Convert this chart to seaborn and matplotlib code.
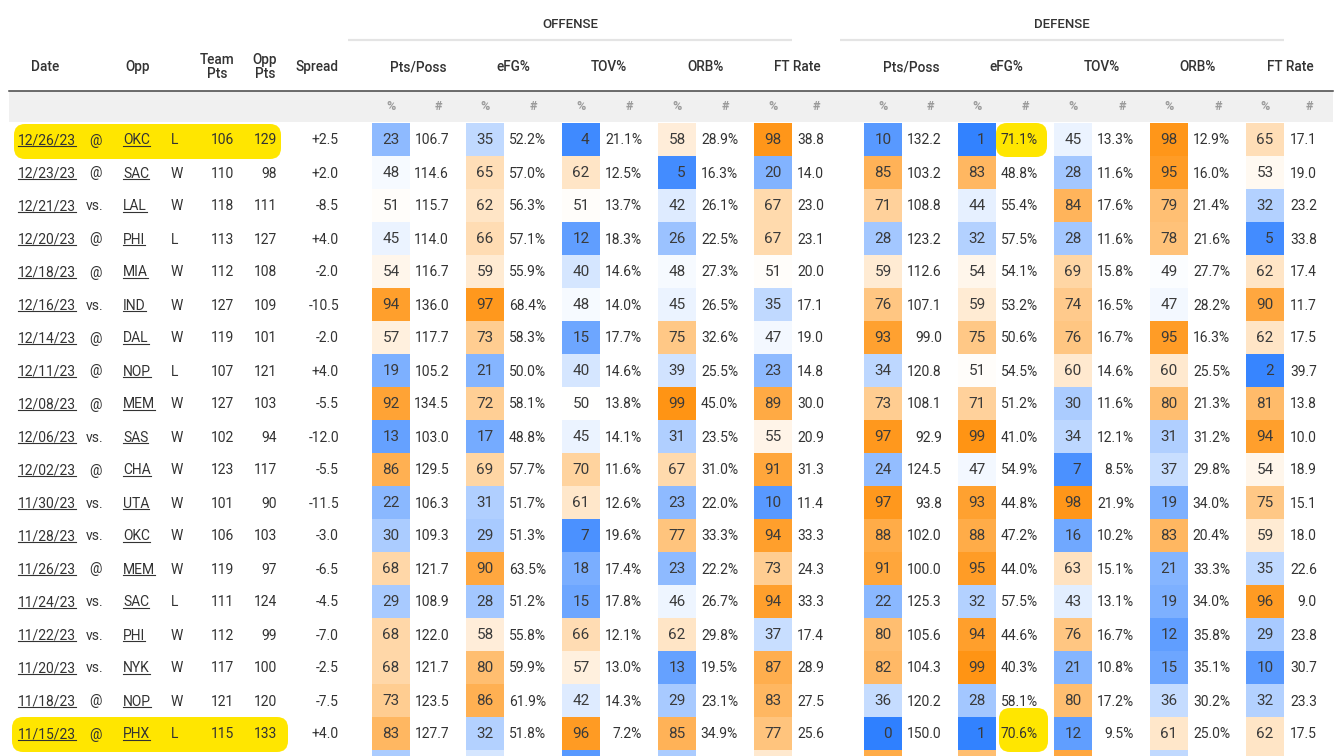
import numpy as np
import pandas as pd
import matplotlib.pyplot as plt
import seaborn as sns
from matplotlib.colors import LinearSegmentedColormap
from matplotlib.patches import FancyBboxPatch, Rectangle

W, H = 1339, 756
plt.rcParams['font.family'] = ['Roboto', 'DejaVu Sans']

# game log
dates = ["12/26/23", "12/23/23", "12/21/23", "12/20/23", "12/18/23", "12/16/23", "12/14/23",
         "12/11/23", "12/08/23", "12/06/23", "12/02/23", "11/30/23", "11/28/23", "11/26/23",
         "11/24/23", "11/22/23", "11/20/23", "11/18/23", "11/15/23"]
site = ["@", "@", "vs.", "@", "@", "vs.", "@", "@", "@", "vs.", "@", "vs.", "vs.", "@",
        "vs.", "vs.", "vs.", "@", "@"]
opp = ["OKC", "SAC", "LAL", "PHI", "MIA", "IND", "DAL", "NOP", "MEM", "SAS", "CHA", "UTA",
       "OKC", "MEM", "SAC", "PHI", "NYK", "NOP", "PHX"]
result = ["L", "W", "W", "L", "W", "W", "W", "L", "W", "W", "W", "W", "W", "W", "L", "W",
          "W", "W", "L"]
team_pts = [106, 110, 118, 113, 112, 127, 119, 107, 127, 102, 123, 101, 106, 119, 111, 112,
            117, 121, 115]
opp_pts = [129, 98, 111, 127, 108, 109, 101, 121, 103, 94, 117, 90, 103, 97, 124, 99, 100,
           120, 133]
spread = ["+2.5", "+2.0", "-8.5", "+4.0", "-2.0", "-10.5", "-2.0", "+4.0", "-5.5", "-12.0",
          "-5.5", "-11.5", "-3.0", "-6.5", "-4.5", "-7.0", "-2.5", "-7.5", "+4.0"]

metrics = ["Pts/Poss", "eFG%", "TOV%", "ORB%", "FT Rate"]

# percentiles (last entry = partly visible row at the bottom, estimated from colour)
off_ppp_pct = [23, 48, 51, 45, 54, 94, 57, 19, 92, 13, 86, 22, 30, 68, 29, 68, 68, 73, 83, 30]
off_efg_pct = [35, 65, 62, 66, 59, 97, 73, 21, 72, 17, 69, 31, 29, 90, 28, 58, 80, 86, 32, 40]
off_tov_pct = [4, 62, 51, 12, 40, 48, 15, 40, 50, 45, 70, 61, 7, 18, 15, 66, 57, 42, 96, 10]
off_orb_pct = [58, 5, 42, 26, 48, 45, 75, 39, 99, 31, 67, 23, 77, 23, 46, 62, 13, 29, 85, 30]
off_ft_pct = [98, 20, 67, 67, 51, 35, 47, 23, 89, 55, 91, 10, 94, 73, 94, 37, 87, 83, 77, 60]
def_ppp_pct = [10, 85, 71, 28, 59, 76, 93, 34, 73, 97, 24, 97, 88, 91, 22, 80, 82, 36, 0, 88]
def_efg_pct = [1, 83, 44, 32, 54, 59, 75, 51, 71, 99, 47, 93, 88, 95, 32, 94, 99, 28, 1, 80]
def_tov_pct = [45, 28, 84, 28, 69, 74, 76, 60, 30, 34, 7, 98, 16, 63, 43, 76, 21, 80, 12, 90]
def_orb_pct = [98, 95, 79, 78, 49, 47, 95, 60, 80, 31, 37, 19, 83, 21, 19, 12, 15, 36, 61, 35]
def_ft_pct = [65, 53, 32, 5, 62, 90, 62, 2, 81, 94, 54, 75, 59, 35, 96, 29, 10, 32, 62, 62]

# raw values
off_ppp = [106.7, 114.6, 115.7, 114.0, 116.7, 136.0, 117.7, 105.2, 134.5, 103.0, 129.5, 106.3,
           109.3, 121.7, 108.9, 122.0, 121.7, 123.5, 127.7]
off_efg = [52.2, 57.0, 56.3, 57.1, 55.9, 68.4, 58.3, 50.0, 58.1, 48.8, 57.7, 51.7, 51.3, 63.5,
           51.2, 55.8, 59.9, 61.9, 51.8]
off_tov = [21.1, 12.5, 13.7, 18.3, 14.6, 14.0, 17.7, 14.6, 13.8, 14.1, 11.6, 12.6, 19.6, 17.4,
           17.8, 12.1, 13.0, 14.3, 7.2]
off_orb = [28.9, 16.3, 26.1, 22.5, 27.3, 26.5, 32.6, 25.5, 45.0, 23.5, 31.0, 22.0, 33.3, 22.2,
           26.7, 29.8, 19.5, 23.1, 34.9]
off_ft = [38.8, 14.0, 23.0, 23.1, 20.0, 17.1, 19.0, 14.8, 30.0, 20.9, 31.3, 11.4, 33.3, 24.3,
          33.3, 17.4, 28.9, 27.5, 25.6]
def_ppp = [132.2, 103.2, 108.8, 123.2, 112.6, 107.1, 99.0, 120.8, 108.1, 92.9, 124.5, 93.8,
           102.0, 100.0, 125.3, 105.6, 104.3, 120.2, 150.0]
def_efg = [71.1, 48.8, 55.4, 57.5, 54.1, 53.2, 50.6, 54.5, 51.2, 41.0, 54.9, 44.8, 47.2, 44.0,
           57.5, 44.6, 40.3, 58.1, 70.6]
def_tov = [13.3, 11.6, 17.6, 11.6, 15.8, 16.5, 16.7, 14.6, 11.6, 12.1, 8.5, 21.9, 10.2, 15.1,
           13.1, 16.7, 10.8, 17.2, 9.5]
def_orb = [12.9, 16.0, 21.4, 21.6, 27.7, 28.2, 16.3, 25.5, 21.3, 31.2, 29.8, 34.0, 20.4, 33.3,
           34.0, 35.8, 35.1, 30.2, 25.0]
def_ft = [17.1, 19.0, 23.2, 33.8, 17.4, 11.7, 17.5, 39.7, 13.8, 10.0, 18.9, 15.1, 18.0, 22.6,
          9.0, 23.8, 30.7, 23.3, 17.5]

pct = pd.DataFrame({
    "off_ppp": off_ppp_pct, "off_efg": off_efg_pct, "off_tov": off_tov_pct,
    "off_orb": off_orb_pct, "off_ft": off_ft_pct,
    "def_ppp": def_ppp_pct, "def_efg": def_efg_pct, "def_tov": def_tov_pct,
    "def_orb": def_orb_pct, "def_ft": def_ft_pct,
})
vals = [off_ppp, off_efg, off_tov, off_orb, off_ft, def_ppp, def_efg, def_tov, def_orb, def_ft]
is_pct = [False, True, True, True, False] * 2

# layout (pixels)
row_top, row_h = 123, 33
cell_left = [372, 466, 562, 658, 754, 864, 958, 1054, 1150, 1246]
cell_w = 38
val_right = [449, 546, 642, 738, 824, 942, 1038, 1134, 1230, 1317]
hash_x = [438, 533, 629, 725, 816, 930, 1025, 1122, 1218, 1309]
head_x = [418, 513, 609, 706, 797, 911, 1006, 1102, 1198, 1290]

txt = '#333333'
cmap = LinearSegmentedColormap.from_list("perc", ["#2f80ff", "#ffffff", "#ff9210"])

fig = plt.figure(figsize=(W / 100, H / 100), dpi=100)
ax = fig.add_axes([0, 0, 1, 1])
ax.set_xlim(0, W)
ax.set_ylim(H, 0)
ax.axis('off')

# header
ax.add_patch(Rectangle((9, 91), 1324, 31, color='#f0f0f0', lw=0, zorder=0))
ax.plot([9, 1333], [90.5, 90.5], color='#444444', lw=1.1)
ax.plot([348, 792], [40, 40], color='#e4e4e4', lw=1.6, solid_capstyle='butt')
ax.plot([840, 1284], [40, 40], color='#e4e4e4', lw=1.6, solid_capstyle='butt')
ax.text(570, 25, "OFFENSE", ha='center', va='center', fontsize=9.5, fontweight='medium', color=txt)
ax.text(1062, 25, "DEFENSE", ha='center', va='center', fontsize=9.5, fontweight='medium', color=txt)

hk = dict(ha='center', va='center', fontsize=9.8, fontweight='medium', color=txt)
ax.text(45, 67, "Date", **hk)
ax.text(138, 67, "Opp", **hk)
ax.text(217, 67, "Team\nPts", linespacing=0.95, **hk)
ax.text(265, 67, "Opp\nPts", linespacing=0.95, **hk)
ax.text(317, 67, "Spread", **hk)
for k in range(10):
    ax.text(head_x[k], 67, metrics[k % 5], **hk)
    ax.text(cell_left[k] + cell_w / 2, 106, "%", ha='center', va='center', fontsize=9,
            fontweight='bold', color='#9a9a9a')
    ax.text(hash_x[k], 106, "#", ha='center', va='center', fontsize=9,
            fontweight='bold', color='#9a9a9a')

# highlighter marks
hl = '#ffe600'
for (x, y, w, h) in [(17, 127, 261, 29), (15, 720, 270, 29), (999, 126, 45, 28), (1002, 711, 43, 38)]:
    ax.add_patch(FancyBboxPatch((x, y), w, h, boxstyle="round,pad=3,rounding_size=11",
                                fc=hl, ec='none', zorder=1))

# left columns
links = []
dk = dict(fontsize=10, color=txt, va='baseline', zorder=3)
for i in range(len(dates)):
    yb = row_top + row_h * i + row_h / 2 + 5
    links.append(ax.text(18, yb, dates[i], ha='left', **dk))
    ax.text(95, yb, site[i], ha='center', **dk)
    links.append(ax.text(123, yb, opp[i], ha='left', **dk))
    ax.text(171, yb, result[i], ha='left', **dk)
    ax.text(234, yb, str(team_pts[i]), ha='right', **dk)
    ax.text(277, yb, str(opp_pts[i]), ha='right', **dk)
    ax.text(339, yb, spread[i], ha='right', **dk)
    for k in range(10):
        s = f"{vals[k][i]:.1f}" + ("%" if is_pct[k] else "")
        ax.text(val_right[k], yb, s, ha='right', **dk)

# percentile cells (the cut-off last row gets colour only)
n_rows = len(pct)
n_full = len(dates)
for k, col in enumerate(pct.columns):
    labels = np.array([[str(v) if i < n_full else ""] for i, v in enumerate(pct[col])])
    hax = fig.add_axes([cell_left[k] / W, 1 - (row_top + n_rows * row_h) / H,
                        cell_w / W, n_rows * row_h / H])
    sns.heatmap(pct[[col]], ax=hax, cmap=cmap, vmin=0, vmax=100, cbar=False,
                annot=labels, fmt="", annot_kws={"fontsize": 11, "color": "#3a3a3a"},
                xticklabels=False, yticklabels=False, linewidths=0)
    for t in hax.texts:
        if len(t.get_text()) == 1:
            xx, yy = t.get_position()
            t.set_position((xx + 0.11, yy))
    hax.axis('off')

# underline dates and opponents
fig.canvas.draw()
r = fig.canvas.get_renderer()
inv = ax.transData.inverted()
for t in links:
    bb = t.get_window_extent(r)
    x0 = inv.transform((bb.x0, bb.y0))[0]
    x1 = inv.transform((bb.x1, bb.y0))[0]
    yb = t.get_position()[1] + 1.6
    ax.plot([x0, x1], [yb, yb], color=txt, lw=0.8, zorder=3)

fig.savefig("out.png", dpi=100)
